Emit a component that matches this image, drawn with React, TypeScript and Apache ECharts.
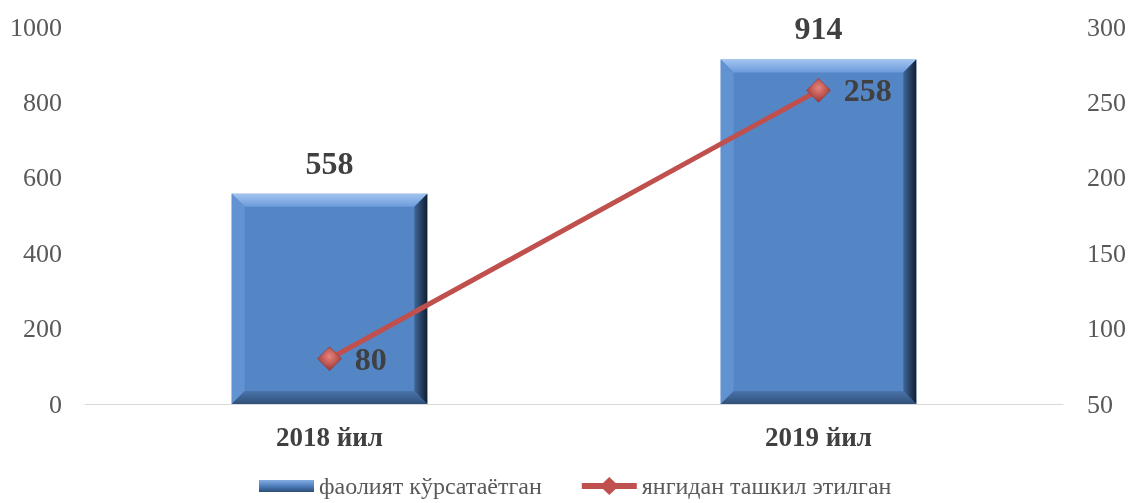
import React, { useEffect, useRef } from "react";
import * as echarts from "echarts";

const categories = ["2018 йил", "2019 йил"];
const activeValues = [558, 914];
const newValues = [80, 258];
const seriesNames = ["фаолият кўрсатаётган", "янгидан ташкил этилган"];
const leftTicks = { min: 0, max: 1000, interval: 200 };
const rightTicks = { min: 50, max: 300, interval: 50 };

const FONT = "'Liberation Serif', 'Times New Roman', serif";

const BAR_ICON = "path://M0,0L0.01,0L0,0.01Z M0,18L0.01,18L0,17.99Z M0,3L55,3L55,15L0,15Z";
const LINE_ICON = "path://M0,6L55,6L55,12L0,12Z M27.5,0L37,9L27.5,18L18,9Z";

export default function App() {
  const ref = useRef<HTMLDivElement>(null);
  useEffect(() => {
    const chart = echarts.init(ref.current!, undefined, { renderer: "svg" });
    const renderBar = (params: any, api: any) => {
      const idx = api.value(0);
      const val = api.value(1);
      const top = api.coord([idx, val]);
      const base = api.coord([idx, 0]);
      const w = api.size([1, 0])[0] * 0.4;
      const x0 = top[0] - w / 2;
      const x1 = top[0] + w / 2;
      const y0 = top[1];
      const y1 = base[1];
      const b = 13;
      return {
        type: "group",
        children: [
          { type: "rect", shape: { x: x0, y: y0, width: w, height: y1 - y0 }, style: { fill: "#5486C6" } },
          {
            type: "polygon",
            shape: { points: [[x0, y0], [x1, y0], [x1 - b, y0 + b], [x0 + b, y0 + b]] },
            style: {
              fill: new echarts.graphic.LinearGradient(0, 0, 0, 1, [
                { offset: 0, color: "#A3C5EF" },
                { offset: 1, color: "#6D9BDB" },
              ]),
            },
          },
          {
            type: "polygon",
            shape: { points: [[x0, y0], [x0 + b, y0 + b], [x0 + b, y1 - b], [x0, y1]] },
            style: { fill: "#6192D1" },
          },
          {
            type: "polygon",
            shape: { points: [[x0, y1], [x1, y1], [x1 - b, y1 - b], [x0 + b, y1 - b]] },
            style: {
              fill: new echarts.graphic.LinearGradient(0, 0, 0, 1, [
                { offset: 0, color: "#4A74AB" },
                { offset: 1, color: "#30507A" },
              ]),
            },
          },
          {
            type: "polygon",
            shape: { points: [[x1, y0], [x1, y1], [x1 - b, y1 - b], [x1 - b, y0 + b]] },
            style: {
              fill: new echarts.graphic.LinearGradient(0, 0, 1, 0, [
                { offset: 0, color: "#3F6799" },
                { offset: 1, color: "#111E30" },
              ]),
            },
          },
          {
            type: "text",
            style: {
              text: String(val),
              x: top[0],
              y: y0 - 31,
              align: "center",
              verticalAlign: "middle",
              font: `bold 32px ${FONT}`,
              fill: "#404040",
            },
          },
        ],
      };
    };
    chart.setOption({
      animation: false,
      textStyle: { fontFamily: FONT },
      grid: { left: 85, right: 67, top: 27, bottom: 99 },
      legend: {
        bottom: 0,
        left: 254,
        itemGap: 40,
        itemWidth: 55,
        itemHeight: 18,
        textStyle: { fontFamily: FONT, fontSize: 24, color: "#595959" },
        data: [
          {
            name: seriesNames[0],
            icon: BAR_ICON,
            itemStyle: {
              color: new echarts.graphic.LinearGradient(0, 0, 0, 1, [
                { offset: 0.15, color: "#86AEE3" },
                { offset: 0.5, color: "#4F7FBE" },
                { offset: 0.85, color: "#2B4A72" },
              ]),
              borderWidth: 0,
            },
          },
          {
            name: seriesNames[1],
            icon: LINE_ICON,
            itemStyle: { color: "#C0504D", borderWidth: 0, borderColor: "transparent" },
          },
        ],
      },
      xAxis: {
        type: "category",
        data: categories,
        axisLine: { lineStyle: { color: "#D9D9D9", width: 1 } },
        axisTick: { show: false },
        axisLabel: { fontFamily: FONT, fontSize: 27, fontWeight: "bold", color: "#404040", margin: 19 },
      },
      yAxis: [
        {
          type: "value",
          ...leftTicks,
          splitLine: { show: false },
          axisLabel: { fontFamily: FONT, fontSize: 26, color: "#595959", margin: 23, formatter: (v: number) => String(v) },
        },
        {
          type: "value",
          ...rightTicks,
          splitLine: { show: false },
          axisLabel: { fontFamily: FONT, fontSize: 26, color: "#595959", margin: 24 },
        },
      ],
      series: [
        {
          name: seriesNames[0],
          type: "custom",
          renderItem: renderBar,
          itemStyle: { color: "#4F7FBE" },
          encode: { x: 0, y: 1 },
          data: activeValues.map((v, i) => [i, v]),
          z: 1,
        },
        {
          name: seriesNames[1],
          type: "line",
          yAxisIndex: 1,
          data: newValues,
          symbol: "diamond",
          symbolSize: 24,
          lineStyle: { color: "#C0504D", width: 5 },
          itemStyle: {
            color: new echarts.graphic.RadialGradient(0.5, 0.4, 0.6, [
              { offset: 0, color: "#E8837E" },
              { offset: 1, color: "#9A3532" },
            ]),
            borderColor: "#8C2F2C",
            borderWidth: 0.5,
          },
          label: {
            show: true,
            position: "right",
            distance: 13,
            fontFamily: FONT,
            fontSize: 32,
            fontWeight: "bold",
            color: "#404040",
          },
          z: 3,
        },
      ],
    });
    return () => chart.dispose();
  }, []);
  return <div ref={ref} style={{ position: "fixed", left: 0, top: 0, width: 1130, height: 503 }} />;
}
